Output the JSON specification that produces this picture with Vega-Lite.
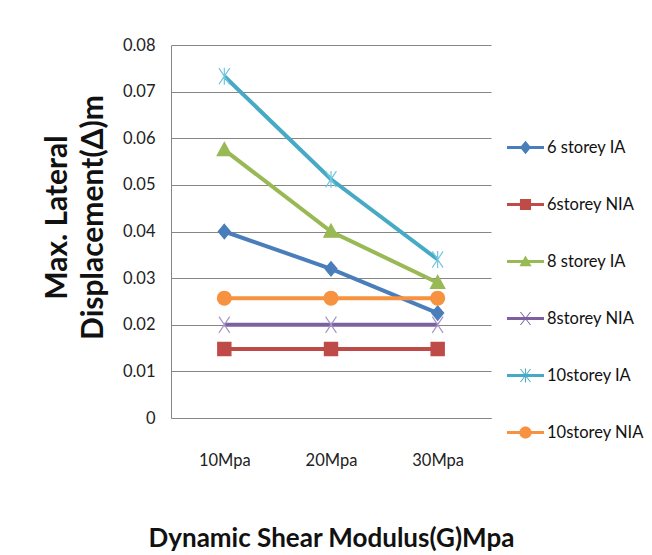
{
  "$schema": "https://vega.github.io/schema/vega-lite/v6.json",
  "autosize": {"type": "none"},
  "padding": {"left": 171, "top": 45, "right": 161, "bottom": 137},
  "width": 320,
  "height": 373,
  "background": "white",
  "config": {
    "font": "Lato",
    "view": {"stroke": null},
    "axis": {"labelFont": "Lato", "titleFont": "Lato", "labelColor": "#222222", "titleColor": "#111111"}
  },
  "data": {
    "values": [
      {"g": "10Mpa", "series": "6 storey IA", "v": 0.040},
      {"g": "20Mpa", "series": "6 storey IA", "v": 0.032},
      {"g": "30Mpa", "series": "6 storey IA", "v": 0.0225},
      {"g": "10Mpa", "series": "6storey NIA", "v": 0.0148},
      {"g": "20Mpa", "series": "6storey NIA", "v": 0.0148},
      {"g": "30Mpa", "series": "6storey NIA", "v": 0.0148},
      {"g": "10Mpa", "series": "8 storey IA", "v": 0.0575},
      {"g": "20Mpa", "series": "8 storey IA", "v": 0.040},
      {"g": "30Mpa", "series": "8 storey IA", "v": 0.029},
      {"g": "10Mpa", "series": "8storey NIA", "v": 0.020},
      {"g": "20Mpa", "series": "8storey NIA", "v": 0.020},
      {"g": "30Mpa", "series": "8storey NIA", "v": 0.020},
      {"g": "10Mpa", "series": "10storey IA", "v": 0.0733},
      {"g": "20Mpa", "series": "10storey IA", "v": 0.0512},
      {"g": "30Mpa", "series": "10storey IA", "v": 0.034},
      {"g": "10Mpa", "series": "10storey NIA", "v": 0.0257},
      {"g": "20Mpa", "series": "10storey NIA", "v": 0.0257},
      {"g": "30Mpa", "series": "10storey NIA", "v": 0.0257}
    ]
  },
  "encoding": {
    "x": {
      "field": "g", "type": "ordinal",
      "scale": {"type": "point", "padding": 0.5},
      "axis": {
        "title": "Dynamic Shear Modulus(G)Mpa",
        "labelAngle": 0, "ticks": false, "labelPadding": 34, "labelFontSize": 16.5,
        "domainColor": "#868686", "domainWidth": 1, "grid": false,
        "titleFontSize": 26, "titleFontWeight": "bold", "titlePadding": 57
      }
    },
    "y": {
      "field": "v", "type": "quantitative",
      "scale": {"domain": [0, 0.08]},
      "axis": {
        "title": ["Max. Lateral", "Displacement(Δ)m"],
        "values": [0, 0.01, 0.02, 0.03, 0.04, 0.05, 0.06, 0.07, 0.08],
        "format": "~g",
        "ticks": false, "labelPadding": 16, "labelFontSize": 16.5,
        "domainColor": "#868686", "gridColor": "#868686", "gridWidth": 1,
        "titleFontSize": 30, "titleFontWeight": "bold", "titleLineHeight": 36, "titlePadding": 14,
        "titleY": 172
      }
    }
  },
  "layer": [
    {
      "mark": {"type": "line", "strokeWidth": 4},
      "encoding": {
        "color": {
          "field": "series", "type": "nominal", "legend": null,
          "scale": {
            "domain": ["6 storey IA", "6storey NIA", "8 storey IA", "8storey NIA", "10storey IA", "10storey NIA"],
            "range": ["#4a7ebb", "#be4b48", "#98b954", "#7d60a0", "#46aac5", "#f69240"]
          }
        }
      }
    },
    {
      "mark": {"type": "point", "filled": true, "size": 144, "strokeWidth": 1.2, "opacity": 1},
      "encoding": {
        "shape": {
          "field": "series", "type": "nominal", "legend": null,
          "scale": {
            "domain": ["6 storey IA", "6storey NIA", "8 storey IA", "8storey NIA", "10storey IA", "10storey NIA"],
            "range": [
              "M0,-1.2L1,0L0,1.2L-1,0Z",
              "M-1.1,-1.1H1.1V1.1H-1.1Z",
              "M0,-1.25L1.2,0.95H-1.2Z",
              "M-0.9,-1.35L0.9,1.35M-0.9,1.35L0.9,-1.35",
              "M-0.9,-1.35L0.9,1.35M-0.9,1.35L0.9,-1.35M0,-1.4V1.4",
              "M-1.15,0A1.15,1.15 0 1,1 1.15,0A1.15,1.15 0 1,1 -1.15,0Z"
            ]
          }
        },
        "color": {
          "field": "series", "type": "nominal", "legend": null,
          "scale": {
            "domain": ["6 storey IA", "6storey NIA", "8 storey IA", "8storey NIA", "10storey IA", "10storey NIA"],
            "range": ["#4a7ebb", "#be4b48", "#98b954", "#7d60a0", "#46aac5", "#f69240"]
          }
        },
        "stroke": {
          "field": "series", "type": "nominal", "legend": null,
          "scale": {
            "domain": ["6 storey IA", "6storey NIA", "8 storey IA", "8storey NIA", "10storey IA", "10storey NIA"],
            "range": ["#4a7ebb", "#be4b48", "#98b954", "#a893c8", "#72c6de", "#f69240"]
          }
        }
      }
    },
    {
      "transform": [{"filter": "datum.v < 0"}],
      "mark": {"type": "point", "filled": true, "opacity": 1},
      "encoding": {
        "x": null,
        "y": null,
        "shape": {
          "field": "series", "type": "nominal",
          "scale": {
            "domain": ["6 storey IA", "6storey NIA", "8 storey IA", "8storey NIA", "10storey IA", "10storey NIA"],
            "range": [
              "M-1,-0.08H1V0.08H-1Z M0,-0.36L0.3,0L0,0.36L-0.3,0Z",
              "M-1,-0.08H1V0.08H-1Z M-0.3,-0.3H0.3V0.3H-0.3Z",
              "M-1,-0.08H1V0.08H-1Z M0,-0.33L0.33,0.25H-0.33Z",
              "M-1,-0.08H1V0.08H-1Z M-0.3,-0.35H-0.24L0.3,0.35H0.24Z M0.24,-0.35H0.3L-0.24,0.35H-0.3Z",
              "M-1,-0.08H1V0.08H-1Z M-0.3,-0.35H-0.24L0.3,0.35H0.24Z M0.24,-0.35H0.3L-0.24,0.35H-0.3Z M-0.03,-0.38H0.03V0.38H-0.03Z",
              "M-1,-0.08H1V0.08H-1Z M-0.33,0A0.33,0.33 0 1,1 0.33,0A0.33,0.33 0 1,1 -0.33,0Z"
            ]
          },
          "legend": {
            "title": null, "orient": "none", "legendX": 336, "legendY": 84,
            "symbolSize": 1369, "symbolStrokeWidth": 0, "symbolOpacity": 1,
            "labelFont": "Lato", "labelFontSize": 16.5, "labelColor": "#111111", "labelOffset": 3,
            "rowPadding": 30, "padding": 0, "labelLimit": 200
          }
        },
        "color": {
          "field": "series", "type": "nominal",
          "scale": {
            "domain": ["6 storey IA", "6storey NIA", "8 storey IA", "8storey NIA", "10storey IA", "10storey NIA"],
            "range": ["#4a7ebb", "#be4b48", "#98b954", "#7d60a0", "#46aac5", "#f69240"]
          },
          "legend": {
            "title": null, "orient": "none", "legendX": 336, "legendY": 84,
            "symbolSize": 1369, "symbolStrokeWidth": 0, "symbolOpacity": 1,
            "labelFont": "Lato", "labelFontSize": 16.5, "labelColor": "#111111", "labelOffset": 3,
            "rowPadding": 30, "padding": 0, "labelLimit": 200
          }
        }
      }
    }
  ],
  "resolve": {"scale": {"color": "independent", "shape": "independent", "stroke": "independent"}}
}
